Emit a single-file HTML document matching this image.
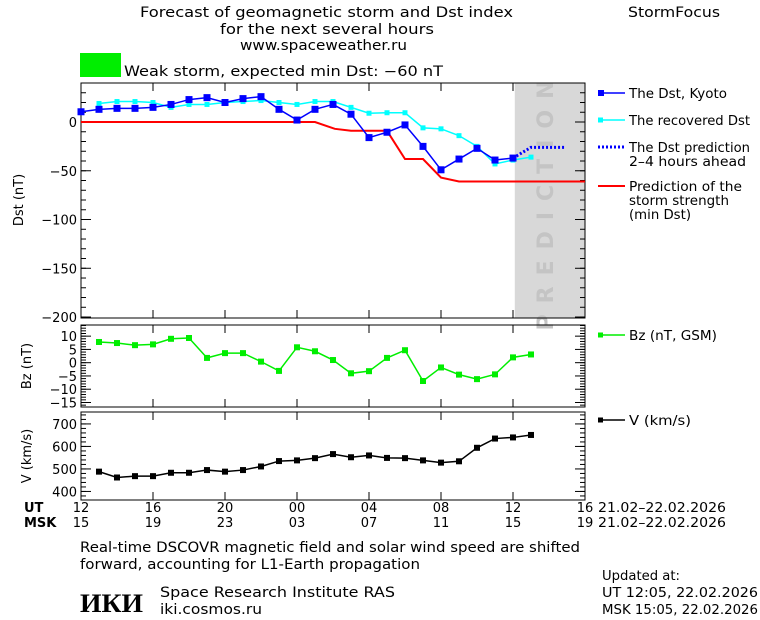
<!DOCTYPE html>
<html><head><meta charset="utf-8">
<style>
body{margin:0;background:#fff;}
svg{display:block;font-family:"DejaVu Sans","Liberation Sans",sans-serif;}
text{font-size:13px;fill:#000;}
</style></head>
<body>
<svg id="chart" width="760" height="620" viewBox="0 0 760 620">
<text x="140" y="17" textLength="373" lengthAdjust="spacingAndGlyphs" style="font-size:14px">Forecast of geomagnetic storm and Dst index</text>
<text x="220" y="34" textLength="214" lengthAdjust="spacingAndGlyphs" style="font-size:14px">for the next several hours</text>
<text x="240" y="50" textLength="167" lengthAdjust="spacingAndGlyphs" style="font-size:14px">www.spaceweather.ru</text>
<text x="628" y="17" textLength="92" lengthAdjust="spacingAndGlyphs" style="font-size:14px">StormFocus</text>
<rect x="80" y="53" width="41" height="24" fill="#00ee00"/>
<text x="124" y="76" textLength="319" lengthAdjust="spacingAndGlyphs" style="font-size:14px">Weak storm, expected min Dst: −60 nT</text>
<g id="plots"></g>
<text x="24" y="512" style="font-weight:bold">UT</text>
<text x="24" y="527" style="font-weight:bold">MSK</text>
<text x="598" y="512" textLength="128" lengthAdjust="spacingAndGlyphs">21.02–22.02.2026</text>
<text x="598" y="527" textLength="128" lengthAdjust="spacingAndGlyphs">21.02–22.02.2026</text>
<text x="80" y="552" textLength="500" lengthAdjust="spacingAndGlyphs" style="font-size:14px">Real-time DSCOVR magnetic field and solar wind speed are shifted</text>
<text x="80" y="569" textLength="340" lengthAdjust="spacingAndGlyphs" style="font-size:14px">forward, accounting for L1-Earth propagation</text>
<text x="80" y="612" textLength="63" lengthAdjust="spacingAndGlyphs" style="font-size:26px;font-weight:bold;font-family:'Liberation Serif',serif">ИКИ</text>
<text x="160" y="597" textLength="235" lengthAdjust="spacingAndGlyphs" style="font-size:14px">Space Research Institute RAS</text>
<text x="160" y="614" textLength="102" lengthAdjust="spacingAndGlyphs" style="font-size:14px">iki.cosmos.ru</text>
<text x="602" y="580" textLength="78" lengthAdjust="spacingAndGlyphs">Updated at:</text>
<text x="602" y="597" textLength="156" lengthAdjust="spacingAndGlyphs">UT   12:05, 22.02.2026</text>
<text x="602" y="614" textLength="156" lengthAdjust="spacingAndGlyphs">MSK 15:05, 22.02.2026</text>
</svg>
<script>
const dstKyoto=[10.5,13,14,14,15,18,23,25,20,24,26,13,2,13,18,8,-16,-10.5,-3,-25,-49,-38,-27,-39,-37];
const dstRecoveredHours=[1,2,3,4,5,6,7,8,9,10,11,12,13,14,15,16,17,18,19,20,21,22,23,24,25];
const dstRecovered=[19,21,21,20,15,18,18,20,21,22,20,18,21,21,15,9,9.5,9.5,-6,-7,-14,-25,-43,-39,-36];
const dstPredHours=[24,25,26.9];
const dstPred=[-37,-26,-26];
const minDstHours=[0,13,14.1,15,17,18,19,20,21,28];
const minDst=[0,0,-7,-9,-9,-38,-38,-57,-61,-61];
const bzHours=[1,2,3,4,5,6,7,8,9,10,11,12,13,14,15,16,17,18,19,20,21,22,23,24,25];
const bz=[7.8,7.4,6.6,6.9,9,9.3,1.8,3.6,3.6,0.4,-3.1,5.8,4.3,1,-4,-3.2,1.8,4.7,-6.9,-1.8,-4.5,-6.2,-4.4,2,3.1];
const speed=[488,462,468,468,483,483,495,488,495,511,535,538,548,566,552,560,549,548,538,528,534,594,635,640,651];
const utTicks=["12","16","20","00","04","08","12","16"];
const mskTicks=["15","19","23","03","07","11","15","19"];
const dstTicks=[0,-50,-100,-150,-200];
const bzTicks=[10,5,0,-5,-10,-15];
const vTicks=[700,600,500,400];

const NS="http://www.w3.org/2000/svg";
const g=document.getElementById('plots');
const X0=81,X1=585,H0=0,H1=28;
const xs=h=>X0+(h-H0)*(X1-X0)/(H1-H0);
function mk(tag,attrs,parent){const e=document.createElementNS(NS,tag);for(const k in attrs)e.setAttribute(k,attrs[k]);(parent||g).appendChild(e);return e;}
function scale(top,bot,vTop,vBot){return v=>top+(vTop-v)*(bot-top)/(vTop-vBot);}
const yD=scale(83,318,40,-201), yB=scale(325,407,14.2,-16.7), yV=scale(412,500,753,362);

const sh=mk('rect',{x:xs(24.1),y:83,width:X1-xs(24.1),height:235,fill:'#d8d8d8'});


const pt=mk('text',{x:553,y:200,'text-anchor':'middle',transform:'rotate(-90 553 200)',style:'font-size:22px;fill:#c4c4c4;letter-spacing:11px;font-weight:bold'});
pt.textContent='PREDICTION';



function frame(top,bot,y,ticks,minorStep,vTop,vBot,name){
  const f=mk('rect',{x:X0,y:top,width:X1-X0,height:bot-top,fill:'none',stroke:'#000','stroke-width':1});
  
  
  for(let v=Math.ceil(vBot/minorStep)*minorStep;v<=vTop;v+=minorStep){
    const yy=y(v);mk('line',{x1:X0,x2:X0+5,y1:yy,y2:yy,stroke:'#000'});mk('line',{x1:X1-5,x2:X1,y1:yy,y2:yy,stroke:'#000'});
  }
  ticks.forEach(t=>{const yy=y(t);mk('line',{x1:X0,x2:X0+10,y1:yy,y2:yy,stroke:'#000'});mk('line',{x1:X1-10,x2:X1,y1:yy,y2:yy,stroke:'#000'});
    const tx=mk('text',{x:X0-4,y:yy+5,'text-anchor':'end'});tx.textContent=String(t).replace('-','−');
    
    });
  for(let h=0;h<=28;h+=4){const xx=xs(h);mk('line',{x1:xx,x2:xx,y1:bot,y2:bot-8,stroke:'#000'});mk('line',{x1:xx,x2:xx,y1:top,y2:top+8,stroke:'#000'});}
}
frame(83,318,yD,dstTicks,10,40,-200,'dst');
frame(325,407,yB,bzTicks,1,14,-16,'bz');
frame(412,500,yV,vTicks,20,740,380,'speed');

function line(hours,vals,y,color,w,name,marker,dash){
  const p=mk('polyline',{points:hours.map((h,i)=>xs(h)+','+y(vals[i])).join(' '),fill:'none',stroke:color,'stroke-width':w});
  if(dash)p.setAttribute('stroke-dasharray',dash);
  
  
  if(marker)hours.forEach((h,i)=>{const r=mk('rect',{x:xs(h)-marker/2,y:y(vals[i])-marker/2,width:marker,height:marker,fill:color});
    
    });
}
const kyotoHours=dstKyoto.map((_,i)=>i);
line(minDstHours,minDst,yD,'#ff0000',2,'min-dst');
line(dstRecoveredHours,dstRecovered,yD,'#00ffff',1.5,'recovered-dst',5);
line(kyotoHours,dstKyoto,yD,'#0000ff',1.5,'dst-kyoto',7);
line(dstPredHours,dstPred,yD,'#0000ff',3,'dst-prediction',0,'2,2');
line(bzHours,bz,yB,'#00ee00',1.5,'bz',6);
line(bzHours,speed,yV,'#000',1.5,'speed',6);

utTicks.forEach((t,i)=>{const a=mk('text',{x:xs(i*4),y:512,'text-anchor':'middle'});a.textContent=t;
  
  
  const b=mk('text',{x:xs(i*4),y:527,'text-anchor':'middle'});b.textContent=mskTicks[i];
  
  });

function ylab(x,y,t,n){const e=mk('text',{x:x,y:y,'text-anchor':'middle',transform:`rotate(-90 ${x} ${y})`});e.textContent=t;
  
  }
ylab(23,200,'Dst (nT)','dst-axis-title');
ylab(31,366,'Bz (nT)','bz-axis-title');
ylab(31,456,'V (km/s)','speed-axis-title');

function leg(y,color,w,lines,lens,n,marker,dash){
  const l=mk('line',{x1:598,x2:625,y1:y,y2:y,stroke:color,'stroke-width':w});if(dash)l.setAttribute('stroke-dasharray',dash);
  
  
  if(marker){const r=mk('rect',{x:598,y:y-marker/2,width:marker,height:marker,fill:color});
    
    }
  lines.forEach((s,i)=>{const t=mk('text',{x:629,y:y+5+i*14,textLength:lens[i],lengthAdjust:'spacingAndGlyphs'});t.textContent=s;
    
    });
}
leg(93,'#0000ff',1.5,['The Dst, Kyoto'],[98],'dst-kyoto',6);
leg(120,'#00ffff',1.5,['The recovered Dst'],[121],'recovered-dst',5);
leg(147,'#0000ff',3,['The Dst prediction','2–4 hours ahead'],[121,117],'dst-prediction',0,'2,2');
leg(186,'#ff0000',2,['Prediction of the','storm strength','(min Dst)'],[113,100,62],'min-dst');
leg(335,'#00ee00',1.5,['Bz (nT, GSM)'],[88],'bz',5);
leg(420,'#000',1.5,['V (km/s)'],[62],'speed',5);
</script>
</body></html>
